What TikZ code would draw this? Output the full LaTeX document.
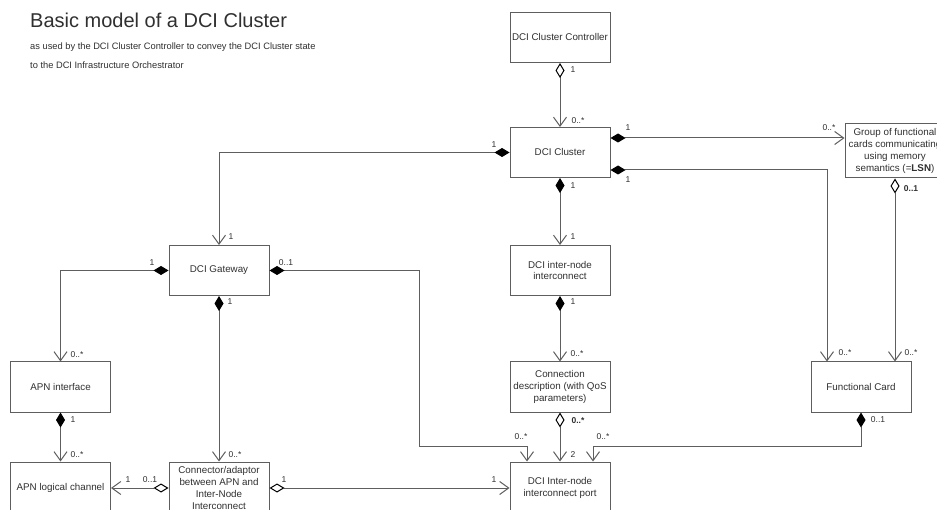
\documentclass[tikz,border=0pt]{standalone}
\usepackage{fontspec}
\setmainfont{Liberation Sans}
\usetikzlibrary{arrows.meta}
\definecolor{edge}{HTML}{5E5E5E}
\definecolor{ink}{HTML}{303030}

\tikzset{
  box/.style={draw=edge, line width=1pt, fill=white, minimum width=100pt,
    minimum height=50pt, inner sep=1pt, align=center, text=ink,
    font=\fontsize{9.8}{11.7}\selectfont},
  mult/.style={text=ink, font=\fontsize{8.5}{10}\selectfont, inner sep=0pt},
  link/.style={draw=edge, line width=1pt},
  comp/.style={link, {Diamond[length=15pt,width=9pt,color=black,fill=black]}-{Straight Barb[length=9pt,width=13pt]}},
  agg/.style={link, {Diamond[length=15pt,width=9pt,color=black,fill=white]}-{Straight Barb[length=9pt,width=13pt]}},
}

\begin{document}
\begin{tikzpicture}[x=1pt, y=-1pt]
\useasboundingbox (0,0) rectangle (937,510);
\clip (0,0) rectangle (937,510);
\fill[white] (0,0) rectangle (937,510);

% heading
\node[anchor=base west, inner sep=0pt, text=ink, font=\fontsize{20}{24}\selectfont] (title) at (30,28) {Basic model of a DCI Cluster};
\node[anchor=base west, inner sep=0pt, text=ink, font=\fontsize{9.3}{11}\selectfont] (sub1) at (30,50) {as used by the DCI Cluster Controller to convey the DCI Cluster state};
\node[anchor=base west, inner sep=0pt, text=ink, font=\fontsize{9.3}{11}\selectfont] (sub2) at (30,69) {to the DCI Infrastructure Orchestrator};

% classes
\node[box] (ctrl) at (560,37.5) {DCI Cluster Controller};
\node[box] (cluster) at (560,152.5) {DCI Cluster};
\node[box, minimum height=54pt] (group) at (895,151) {Group of functional\\cards communicating\\using memory\\semantics (=\textbf{LSN})};
\node[box] (gw) at (219,270.5) {DCI Gateway};
\node[box] (inter) at (560,270.5) {DCI inter-node\\interconnect};
\node[box] (apnif) at (60.5,387) {APN interface};
\node[box] (conn) at (560,387) {Connection\\description (with QoS\\parameters)};
\node[box] (fc) at (861,387) {Functional Card};
\node[box, minimum height=52pt] (apnch) at (60.5,488) {APN logical channel};
\node[box, minimum height=52pt] (adapt) at (219,488) {Connector/adaptor\\between APN and\\Inter-Node\\Interconnect};
\node[box, minimum height=52pt] (port) at (560,488) {DCI Inter-node\\interconnect port};

% bend points
\coordinate (cg) at ([yshift=14.5pt]cluster.east);
\coordinate (cf) at ([yshift=-17.5pt]cluster.east);
\coordinate (fcL) at ([xshift=-34pt]fc.north);
\coordinate (portL) at ([xshift=-33pt]port.north);
\coordinate (portR) at ([xshift=33pt]port.north);
\coordinate (gwbend) at (419,446);
\coordinate (fcbend) at (593,446);

% associations
\draw[agg] (ctrl) -- (cluster);
\draw[comp] (cluster.west) -| (gw.north);
\draw[comp] (cg) -- (cg -| group.west);
\draw[comp] (cf) -| (fcL);
\draw[agg] (group.south) -- (group.south |- fc.north);
\draw[comp] (cluster) -- (inter);
\draw[comp] (inter) -- (conn);
\draw[agg] (conn) -- (port);
\draw[comp] (gw.east) -| (gwbend) -| (portL);
\draw[comp] (fc.south) |- (fcbend) -- (portR);
\draw[comp] (gw.west) -| (apnif.north);
\draw[comp] (gw) -- (adapt);
\draw[comp] (apnif) -- (apnch);
\draw[agg] (adapt.west) -- (apnch.east);
\draw[agg] (adapt.east) -- (port.west);

% multiplicities
\node[mult] (m1) at (573,70) {1};
\node[mult] (m2) at (578,121) {0..*};
\node[mult] (m3) at (494,145) {1};
\node[mult] (m4) at (231,237) {1};
\node[mult] (m5) at (628,128) {1};
\node[mult] (m6) at (829,128) {0..*};
\node[mult] (m7) at (628,180) {1};
\node[mult] (m8) at (845,353) {0..*};
\node[mult] (m9) at (911,353) {0..*};
\node[mult, font=\fontsize{8.5}{10}\selectfont\bfseries] (m10) at (911,189) {0..1};
\node[mult] (m11) at (573,186) {1};
\node[mult] (m12) at (573,237) {1};
\node[mult] (m13) at (573,302) {1};
\node[mult] (m14) at (577,354) {0..*};
\node[mult, font=\fontsize{8.5}{10}\selectfont\bfseries] (m15) at (578,421) {0..*};
\node[mult] (m16) at (573,455) {2};
\node[mult] (m17) at (286,263) {0..1};
\node[mult] (m18) at (521,437) {0..*};
\node[mult] (m19) at (878,420) {0..1};
\node[mult] (m20) at (603,437) {0..*};
\node[mult] (m21) at (152,263) {1};
\node[mult] (m22) at (77,355) {0..*};
\node[mult] (m23) at (230,302) {1};
\node[mult] (m24) at (235,455) {0..*};
\node[mult] (m25) at (73,420) {1};
\node[mult] (m26) at (77,455) {0..*};
\node[mult] (m27) at (128,480) {1};
\node[mult] (m28) at (150,480) {0..1};
\node[mult] (m29) at (284,480) {1};
\node[mult] (m30) at (494,480) {1};
\end{tikzpicture}
\end{document}
